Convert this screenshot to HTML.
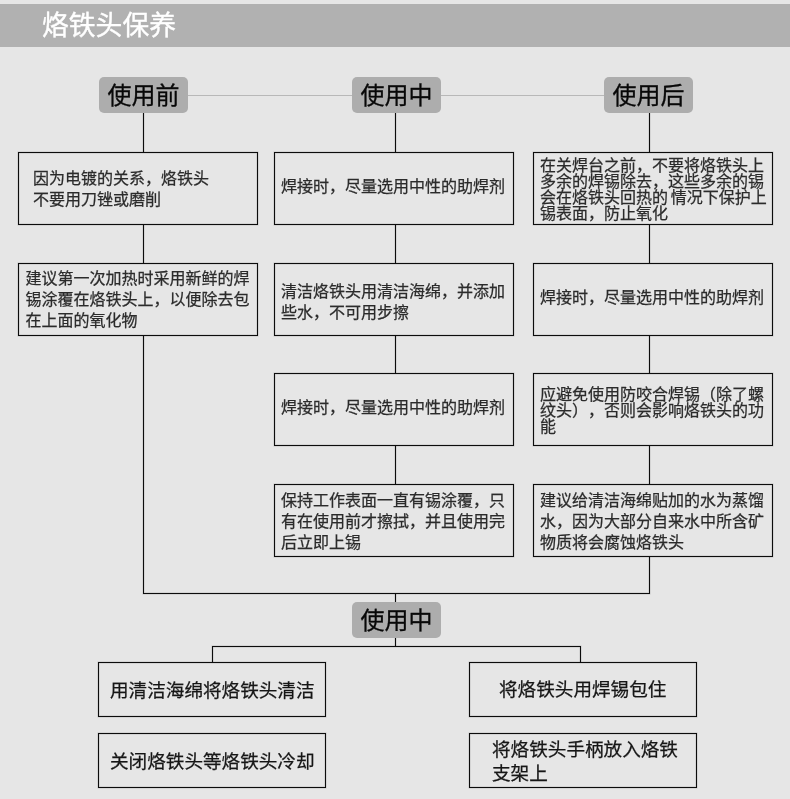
<!DOCTYPE html>
<html lang="zh-CN">
<head>
<meta charset="utf-8">
<title>烙铁头保养</title>
<style>
html,body{margin:0;padding:0;}
body{width:790px;height:799px;position:relative;overflow:hidden;background:#e6e6e6;
  font-family:"Liberation Sans","Noto Sans CJK SC",sans-serif;color:#333;text-spacing-trim:space-all;font-kerning:none;}
#hdr{position:absolute;left:0;top:4px;width:790px;height:43px;background:#b1b1b1;}
#hdr span{position:absolute;left:42px;top:3px;font-size:26.8px;line-height:38px;color:#fff;white-space:nowrap;-webkit-text-stroke:0.4px #fff;}
svg{position:absolute;left:0;top:0;}
#txt{position:absolute;left:0;top:0;width:790px;height:799px;will-change:transform;}
#hdr{will-change:transform;}
.pill{position:absolute;width:89px;height:36px;border-radius:5px;background:#adadad;
  color:#080808;font-size:24px;line-height:37px;text-align:center;white-space:nowrap;-webkit-text-stroke:0.3px #080808;}
.t{position:absolute;font-size:16px;line-height:21.5px;white-space:nowrap;color:#2b2b2b;-webkit-text-stroke:0.25px #2b2b2b;}
.tight{line-height:16px;}
.b{position:absolute;font-size:18.6px;line-height:24.8px;white-space:nowrap;color:#161616;-webkit-text-stroke:0.25px #161616;}
</style>
</head>
<body>
<div id="hdr"><span>烙铁头保养</span></div>

<svg width="790" height="799" viewBox="0 0 790 799">
  <g stroke="#b8b8b8" stroke-width="1" fill="none">
    <line x1="188" y1="95.5" x2="352" y2="95.5"/>
    <line x1="441" y1="95.5" x2="604" y2="95.5"/>
  </g>
  <g stroke="#000" stroke-opacity="0.16" stroke-width="2" fill="none">
    <rect x="18.5" y="152.5" width="239" height="72"/>
    <rect x="18.5" y="263.5" width="239" height="72"/>
    <rect x="274.5" y="152.5" width="239" height="72"/>
    <rect x="274.5" y="263.5" width="239" height="72"/>
    <rect x="274.5" y="373.5" width="239" height="72"/>
    <rect x="274.5" y="484.5" width="239" height="72"/>
    <rect x="533.5" y="152.5" width="239" height="72"/>
    <rect x="533.5" y="263.5" width="239" height="72"/>
    <rect x="533.5" y="373.5" width="239" height="72"/>
    <rect x="533.5" y="484.5" width="239" height="72"/>
    <path d="M143.5 113V152M143.5 225V263M143.5 336V593.5H649.5V557"/>
    <path d="M395.5 113V152M395.5 225V263M395.5 336V373M395.5 446V484M395.5 594V602M395.5 638V646"/>
    <path d="M649.5 113V152M649.5 225V263M649.5 336V373M649.5 446V484"/>
    <path d="M212.5 662V646.5H580.5V662"/>
    <rect x="98.5" y="662.5" width="227" height="54"/>
    <rect x="98.5" y="733.5" width="227" height="54"/>
    <rect x="469.5" y="662.5" width="227" height="54"/>
    <rect x="469.5" y="733.5" width="227" height="54"/>
  </g>
  <g stroke="#0c0c0c" stroke-width="1" fill="none" shape-rendering="crispEdges">
    <!-- column 1 -->
    <rect x="18.5" y="152.5" width="239" height="72"/>
    <rect x="18.5" y="263.5" width="239" height="72"/>
    <!-- column 2 -->
    <rect x="274.5" y="152.5" width="239" height="72"/>
    <rect x="274.5" y="263.5" width="239" height="72"/>
    <rect x="274.5" y="373.5" width="239" height="72"/>
    <rect x="274.5" y="484.5" width="239" height="72"/>
    <!-- column 3 -->
    <rect x="533.5" y="152.5" width="239" height="72"/>
    <rect x="533.5" y="263.5" width="239" height="72"/>
    <rect x="533.5" y="373.5" width="239" height="72"/>
    <rect x="533.5" y="484.5" width="239" height="72"/>
    <!-- connectors col 1 + joining bar -->
    <path d="M143.5 113V152M143.5 225V263M143.5 336V593.5H649.5V557"/>
    <!-- connectors col 2 -->
    <path d="M395.5 113V152M395.5 225V263M395.5 336V373M395.5 446V484M395.5 594V602M395.5 638V646"/>
    <!-- connectors col 3 -->
    <path d="M649.5 113V152M649.5 225V263M649.5 336V373M649.5 446V484"/>
    <!-- bottom -->
    <path d="M212.5 662V646.5H580.5V662"/>
    <rect x="98.5" y="662.5" width="227" height="54"/>
    <rect x="98.5" y="733.5" width="227" height="54"/>
    <rect x="469.5" y="662.5" width="227" height="54"/>
    <rect x="469.5" y="733.5" width="227" height="54"/>
  </g>
</svg>

<div id="txt">
<div class="pill" style="left:99px;top:77px;">使用前</div>
<div class="pill" style="left:352px;top:77px;">使用中</div>
<div class="pill" style="left:604px;top:77px;">使用后</div>
<div class="pill" style="left:352px;top:602px;">使用中</div>

<div class="t" id="t11" style="left:33px;top:167.7px;">因为电镀的关系，烙铁头<br>不要用刀锉或磨削</div>
<div class="t" id="t12" style="left:281px;top:175.5px;">焊接时，尽量选用中性的助焊剂</div>
<div class="t tight" id="t13" style="left:540px;top:158px;word-spacing:-1.6px;">在关焊台之前，不要将烙铁头上<br>多余的焊锡除去，这些多余的锡<br>会在烙铁头回热的 情况下保护上<br>锡表面，防止氧化</div>

<div class="t" id="t21" style="left:25.5px;top:267.8px;line-height:21.2px;">建议第一次加热时采用新鲜的焊<br>锡涂覆在烙铁头上，以便除去包<br>在上面的氧化物</div>
<div class="t" id="t22" style="left:281px;top:280.5px;line-height:21.3px;">清洁烙铁头用清洁海绵，并添加<br>些水，不可用步擦</div>
<div class="t" id="t23" style="left:540px;top:286.7px;">焊接时，尽量选用中性的助焊剂</div>

<div class="t" id="t32" style="left:281px;top:396.8px;">焊接时，尽量选用中性的助焊剂</div>
<div class="t tight" id="t33" style="left:540px;top:386.6px;">应避免使用防咬合焊锡（除了螺<br>纹头），否则会影响烙铁头的功<br>能</div>

<div class="t" id="t42" style="left:281px;top:490px;line-height:21.2px;">保持工作表面一直有锡涂覆，只<br>有在使用前才擦拭，并且使用完<br>后立即上锡</div>
<div class="t" id="t43" style="left:540px;top:490px;line-height:21.2px;">建议给清洁海绵贴加的水为蒸馏<br>水，因为大部分自来水中所含矿<br>物质将会腐蚀烙铁头</div>

<div class="b" id="b1" style="left:110px;top:678.7px;">用清洁海绵将烙铁头清洁</div>
<div class="b" id="b2" style="left:110px;top:750px;">关闭烙铁头等烙铁头冷却</div>
<div class="b" id="b3" style="left:499px;top:677.5px;">将烙铁头用焊锡包住</div>
<div class="b" id="b4" style="left:492px;top:737.5px;">将烙铁头手柄放入烙铁<br>支架上</div>
</div>
</body>
</html>
